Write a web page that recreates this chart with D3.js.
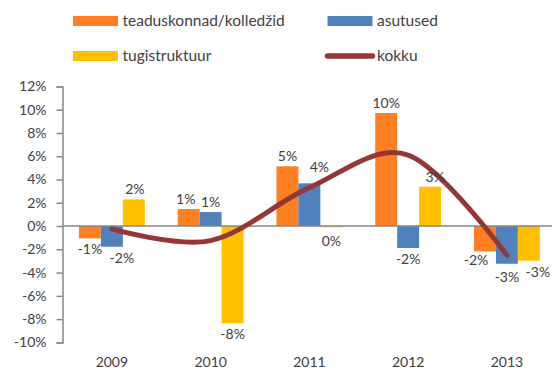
<!DOCTYPE html>
<html>
<head>
<meta charset="utf-8">
<script src="https://cdn.jsdelivr.net/npm/d3@7/dist/d3.min.js"></script>
<style>
  html, body { margin: 0; padding: 0; background: #fff; }
  svg { display: block; font-family: Lato, "Liberation Sans", sans-serif; }
  text { fill: #404040; }
</style>
</head>
<body>
<svg id="chart" width="552" height="372"></svg>
<script>
// Yearly change, percent
const years = ["2009", "2010", "2011", "2012", "2013"];
const seriesNames = ["teaduskonnad/kolledžid", "asutused", "tugistruktuur"];
const teaduskonnad = [-1.06, 1.46, 5.13, 9.71, -2.18];
const asutused = [-1.78, 1.2, 3.67, -1.89, -3.24];
const tugistruktuur = [2.29, -8.36, -0.1, 3.38, -2.98];
const kokku = [-0.25, -1.25, 3.3, 6.1, -2.5];
const yTicks = [-10, -8, -6, -4, -2, 0, 2, 4, 6, 8, 10, 12];

const colors = ["#ff7f22", "#4f81bd", "#ffc000"];
const lineColor = "#953735";
const axisColor = "#878787";

// hand-placed label nudges [dx, dy] per series/year to keep labels clear of the line
const labelNudge = [
  [[0, 0], [-3, 0], [0, 0], [0, 0], [-9, -2]],
  [[10, 0], [0, 0], [10, -6], [0, 0], [0, 2]],
  [[1, 0], [0, 0], [0, 3], [5, 0], [9, 0]]
];

const svg = d3.select("#chart");

const x = d3.scaleBand().domain(years).range([62.5, 556.3]).padding(0);
const inner = d3.scaleBand().domain(d3.range(3)).range([0, x.bandwidth()])
  .paddingInner(0).paddingOuter(0.75);
const y = d3.scaleLinear().domain([-10, 12]).range([342.4, 86.4]);

const fmt = v => `${Math.round(v)}%`;

// y axis
const yAxis = svg.append("g")
  .attr("transform", `translate(${x.range()[0]},0)`)
  .call(d3.axisLeft(y).tickValues(yTicks).tickFormat(d => `${d}%`).tickSize(6).tickPadding(10));
yAxis.select(".domain").attr("stroke", axisColor).attr("stroke-width", 1.5);
yAxis.selectAll(".tick line").attr("stroke", axisColor).attr("stroke-width", 1.5);
yAxis.selectAll(".tick text").attr("font-size", 14).attr("fill", "#404040")
  .attr("font-family", "Lato, sans-serif");

// bars
const allSeries = [teaduskonnad, asutused, tugistruktuur];
allSeries.forEach((vals, si) => {
  const g = svg.append("g");
  g.selectAll("rect").data(vals).join("rect")
    .attr("x", (d, i) => x(years[i]) + inner(si))
    .attr("width", inner.bandwidth())
    .attr("y", d => y(Math.max(0, d)))
    .attr("height", d => Math.abs(y(d) - y(0)))
    .attr("fill", colors[si]);
});

// zero line
svg.append("line")
  .attr("x1", x.range()[0]).attr("x2", x.range()[1])
  .attr("y1", y(0)).attr("y2", y(0))
  .attr("stroke", axisColor).attr("stroke-width", 1.5);

// x axis labels
svg.append("g").selectAll("text").data(years).join("text")
  .attr("x", d => x(d) + x.bandwidth() / 2)
  .attr("y", 367)
  .attr("text-anchor", "middle")
  .attr("font-size", 14)
  .text(d => d);

// total line
const line = d3.line()
  .x((d, i) => x(years[i]) + x.bandwidth() / 2)
  .y(d => y(d))
  .curve(d3.curveCatmullRom.alpha(0));
svg.append("path")
  .datum(kokku)
  .attr("d", line)
  .attr("fill", "none")
  .attr("stroke", lineColor)
  .attr("stroke-width", 5)
  .attr("stroke-linecap", "round");

// bar value labels
allSeries.forEach((vals, si) => {
  svg.append("g").selectAll("text").data(vals).join("text")
    .attr("x", (d, i) => x(years[i]) + inner(si) + inner.bandwidth() / 2 + labelNudge[si][i][0])
    .attr("y", (d, i) => (d >= 0 ? y(d) - 5 : y(d) + 16) + labelNudge[si][i][1])
    .attr("text-anchor", "middle")
    .attr("font-size", 14)
    .text(d => fmt(d));
});

// legend
const legend = svg.append("g");
const legendItems = [
  { name: seriesNames[0], type: "rect", color: colors[0], x: 73, y: 21 },
  { name: seriesNames[1], type: "rect", color: colors[1], x: 327.5, y: 21 },
  { name: seriesNames[2], type: "rect", color: colors[2], x: 73, y: 56 },
  { name: "kokku", type: "line", color: lineColor, x: 327.5, y: 56 }
];
legendItems.forEach(it => {
  if (it.type === "rect") {
    legend.append("rect").attr("x", it.x).attr("y", it.y - 5)
      .attr("width", 45).attr("height", 10).attr("fill", it.color);
  } else {
    legend.append("line").attr("x1", it.x).attr("x2", it.x + 45)
      .attr("y1", it.y).attr("y2", it.y)
      .attr("stroke", it.color).attr("stroke-width", 5.5).attr("stroke-linecap", "round");
  }
  legend.append("text").attr("x", it.x + 49.5).attr("y", it.y + 5)
    .attr("font-size", 15.5).text(it.name);
});
</script>
</body>
</html>
